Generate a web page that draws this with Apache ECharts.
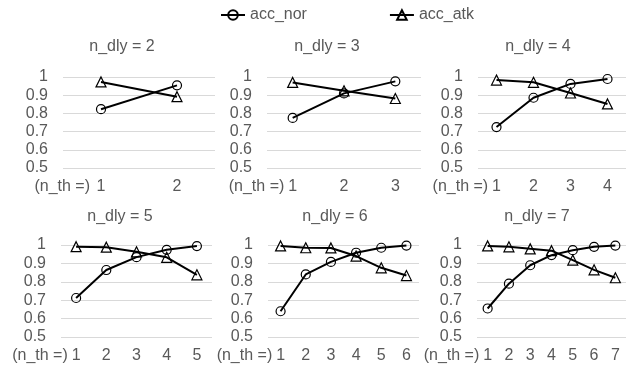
<!DOCTYPE html>
<html>
<head>
<meta charset="utf-8">
<script src="https://cdn.jsdelivr.net/npm/echarts@6/dist/echarts.min.js"></script>
<style>
  html, body { margin: 0; padding: 0; background: #fff; }
  #chart { width: 626px; height: 370px; }
</style>
</head>
<body>
<div id="chart"></div>
<script>
// Valeurs
const delays = [2, 3, 4, 5, 6, 7];
const thresholds = [
    ['1', '2'],
    ['1', '2', '3'],
    ['1', '2', '3', '4'],
    ['1', '2', '3', '4', '5'],
    ['1', '2', '3', '4', '5', '6'],
    ['1', '2', '3', '4', '5', '6', '7']
];
const accNor = [
    [0.823, 0.954],
    [0.775, 0.91, 0.976],
    [0.725, 0.886, 0.962, 0.989],
    [0.712, 0.864, 0.934, 0.974, 0.994],
    [0.64, 0.84, 0.908, 0.958, 0.985, 0.997],
    [0.655, 0.79, 0.89, 0.945, 0.972, 0.99, 0.997]
];
const accAtk = [
    [0.973, 0.892],
    [0.97, 0.924, 0.882],
    [0.983, 0.971, 0.912, 0.852],
    [0.991, 0.988, 0.963, 0.933, 0.838],
    [0.995, 0.985, 0.984, 0.94, 0.876, 0.834],
    [0.995, 0.99, 0.979, 0.969, 0.918, 0.865, 0.822]
];
const yMin = 0.5;
const yMax = 1;
const yStep = 0.1;
const seriesNames = ['acc_nor', 'acc_atk'];
const thName = '(n_th =)';

// Placement des six petits graphiques
const panels = [
    { left: 63, top: 77, width: 152, height: 91, titleX: 122, titleY: 47, nameGap: -27 },
    { left: 267, top: 77, width: 154, height: 91, titleX: 327, titleY: 47, nameGap: -21 },
    { left: 478, top: 77, width: 153, height: 91, titleX: 538, titleY: 47, nameGap: -12 },
    { left: 61, top: 245, width: 151, height: 92, titleX: 120, titleY: 217, nameGap: -7 },
    { left: 268, top: 245, width: 151, height: 92, titleX: 335, titleY: 217, nameGap: -7 },
    { left: 477, top: 245, width: 152, height: 92, titleX: 537, titleY: 217, nameGap: -4 }
];

const FONT = '"Liberation Sans", Arial, sans-serif';
const GREY = '#595959';

const grids = [], xAxes = [], yAxes = [], series = [], graphics = [];

panels.forEach((p, i) => {
    grids.push({ left: p.left, top: p.top, width: p.width, height: p.height });

    xAxes.push({
        type: 'category',
        gridIndex: i,
        data: thresholds[i],
        boundaryGap: true,
        axisLine: { show: false },
        axisTick: { show: false },
        axisLabel: { color: GREY, fontSize: 16, fontFamily: FONT, margin: 11 },
        name: thName,
        nameLocation: 'start',
        nameGap: p.nameGap,
        nameTextStyle: { color: GREY, fontSize: 16, fontFamily: FONT, verticalAlign: 'top', padding: [11, 0, 0, 0] }
    });

    yAxes.push({
        type: 'value',
        gridIndex: i,
        min: yMin,
        max: yMax,
        interval: yStep,
        axisLine: { show: false },
        axisTick: { show: false },
        splitLine: { lineStyle: { color: '#d9d9d9', width: 1 } },
        axisLabel: {
            color: GREY, fontSize: 16, fontFamily: FONT, margin: 15,
            formatter: v => (Math.abs(v - 1) < 1e-9 ? '1' : v.toFixed(1))
        }
    });

    series.push({
        name: seriesNames[0],
        type: 'line',
        xAxisIndex: i,
        yAxisIndex: i,
        data: accNor[i],
        symbol: 'circle',
        symbolSize: 9,
        lineStyle: { color: '#000', width: 2 },
        itemStyle: { color: 'rgba(255,255,255,0)', borderColor: '#000', borderWidth: 1.2 },
        z: 3
    });
    series.push({
        name: seriesNames[1],
        type: 'line',
        xAxisIndex: i,
        yAxisIndex: i,
        data: accAtk[i],
        symbol: 'triangle',
        symbolSize: 10,
        lineStyle: { color: '#000', width: 2 },
        itemStyle: { color: 'rgba(255,255,255,0)', borderColor: '#000', borderWidth: 1.2 },
        z: 4
    });

    graphics.push({
        type: 'text',
        x: p.titleX,
        y: p.titleY,
        style: {
            text: 'n_dly = ' + delays[i],
            font: '16px ' + FONT,
            fill: GREY,
            textAlign: 'center',
            textVerticalAlign: 'middle'
        }
    });
});

const chart = echarts.init(document.getElementById('chart'));
chart.setOption({
    animation: false,
    backgroundColor: '#fff',
    legend: {
        data: seriesNames,
        left: 215,
        top: 2,
        itemWidth: 24,
        itemHeight: 12,
        itemGap: 82,
        textStyle: { color: GREY, fontSize: 16, fontFamily: FONT }
    },
    grid: grids,
    xAxis: xAxes,
    yAxis: yAxes,
    series: series,
    graphic: graphics
});
</script>
</body>
</html>
